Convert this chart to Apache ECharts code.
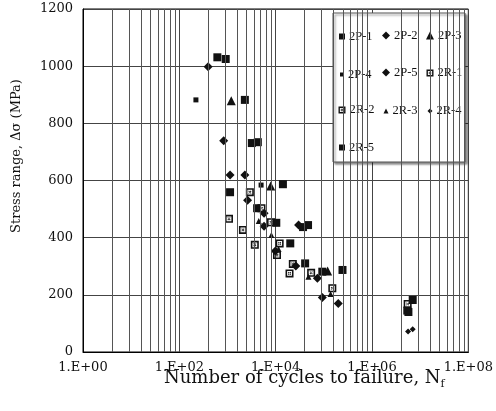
<!DOCTYPE html>
<html>
<head>
<meta charset="utf-8">
<script src="https://cdn.jsdelivr.net/npm/echarts@6/dist/echarts.min.js"></script>
<style>
  html, body { margin: 0; padding: 0; background: #fff; }
  #chart { width: 496px; height: 411px; }
</style>
</head>
<body>
<div id="chart"></div>
<script>
  // [cycles, stress range MPa]
  var s2P1 = [[616, 1031], [918, 1025], [1130, 559], [2293, 882], [4120, 503], [10300, 452], [37000, 437]]
  var s2P2 = [[396, 998], [834, 739], [1130, 619], [2610, 531], [5750, 485], [29900, 444]]
  var s2P3 = [[1197, 879], [7890, 581], [120000, 283]]
  var s2P4 = [[221, 882], [4980, 584]]
  var s2P5 = [[2293, 619], [5750, 440], [9850, 353], [26200, 301], [73500, 258], [93000, 191], [199000, 170]]
  var s2R1 = [[1074, 466], [2090, 427], [3690, 375], [2910, 559], [5070, 503], [5500000, 168]]
  var s2R2 = [[8000, 454], [12100, 380], [10650, 339], [22700, 308], [19400, 275], [54500, 277], [150000, 223]]
  var s2R3 = [[4460, 458], [8150, 409], [11500, 360], [47900, 263], [138000, 203]]
  var s2R4 = [[5600000, 72], [7000000, 80]]
  var s2R5 = [[3200, 731], [4260, 734], [14140, 587], [20100, 380], [40900, 310], [47000, 444], [93000, 281], [244000, 287], [7000000, 182], [5400000, 145], [5700000, 140]]

  var names = ['2P-1', '2P-2', '2P-3', '2P-4', '2P-5', '2R-1', '2R-2', '2R-3', '2R-4', '2R-5']
  var values = [s2P1, s2P2, s2P3, s2P4, s2P5, s2R1, s2R2, s2R3, s2R4, s2R5]
  var xTicks = [1, 1e2, 1e4, 1e6, 1e8]

  var framed = 'path://M0,0H10V10H0Z M2,2V8H8V2Z M3,3.8L3.8,3L7,6.2L6.2,7Z M7,3.8L6.2,3L3,6.2L3.8,7Z'
  // marker shape / plot size / legend icon size
  var marks = {
    '2P-1': ['rect', 8, 6], '2P-2': ['diamond', 9, 8], '2P-3': ['triangle', 9, 8],
    '2P-4': ['rect', 5, 4], '2P-5': ['diamond', 9, 8], '2R-1': [framed, 8, 7],
    '2R-2': [framed, 8, 7], '2R-3': ['triangle', 6, 5], '2R-4': ['diamond', 6, 5],
    '2R-5': ['rect', 8, 6]
  }

  // minor vertical grid lines (k^2 inside each 1..100 span)
  var minor = []
  for (var n = 0; n < 4; n++) {
    for (var k = 2; k <= 9; k++) {
      minor.push({ xAxis: k * k * Math.pow(100, n) })
    }
  }

  var series = names.map(function (nm, i) {
    return {
      name: nm,
      type: 'scatter',
      data: values[i],
      symbol: marks[nm][0],
      symbolSize: marks[nm][1],
      itemStyle: { color: '#111', opacity: 1 },
      z: 3
    }
  })
  series.push({
    type: 'scatter',
    data: [],
    silent: true,
    z: 0,
    markLine: {
      silent: true,
      symbol: 'none',
      animation: false,
      label: { show: false },
      lineStyle: { color: '#555', width: 1, type: 'solid' },
      data: minor
    }
  })

  var legends = names.map(function (nm, i) {
    var col = i < 9 ? i % 3 : 0
    var row = Math.floor(i / 3)
    var sz = marks[nm][2]
    return {
      data: [nm],
      left: [342, 386, 430][col] - sz / 2,
      top: [33, 70, 107, 144][row] - sz / 2,
      padding: 0,
      itemWidth: sz,
      itemHeight: sz,
      selectedMode: false,
      z: 4,
      textStyle: { fontFamily: 'Liberation Serif', fontSize: 12.5, color: '#111', padding: [0, 0, 0, -1] }
    }
  })

  var option = {
    animation: false,
    backgroundColor: '#fff',
    grid: { left: 83, top: 9, right: 25, bottom: 59, show: true, borderColor: '#000', borderWidth: 1 },
    legend: legends,
    xAxis: {
      type: 'log',
      logBase: 100,
      min: xTicks[0],
      max: xTicks[xTicks.length - 1],
      axisLine: { lineStyle: { color: '#000' } },
      axisTick: { show: false },
      axisLabel: {
        margin: 9,
        fontFamily: 'DejaVu Serif',
        fontSize: 13,
        color: '#111',
        formatter: function (v) {
          var e = Math.round(Math.log10(v))
          return '1.E+' + (e < 10 ? '0' : '') + e
        }
      },
      splitLine: { show: true, lineStyle: { color: '#444', width: 1 } }
    },
    yAxis: {
      type: 'value',
      min: 0,
      max: 1200,
      interval: 200,
      axisLine: { show: true, lineStyle: { color: '#000' } },
      axisTick: { show: false },
      axisLabel: {
        margin: 10,
        fontFamily: 'DejaVu Serif',
        fontSize: 13,
        color: '#111',
        formatter: function (v) { return String(v) }
      },
      splitLine: { show: true, lineStyle: { color: '#444', width: 1 } }
    },
    graphic: [
      {
        type: 'rect',
        z: 2,
        shape: { x: 333, y: 13, width: 132, height: 149 },
        style: { fill: '#fff', stroke: '#555', lineWidth: 1, shadowBlur: 2, shadowOffsetX: 2, shadowOffsetY: 2, shadowColor: 'rgba(0,0,0,0.45)' }
      },
      {
        type: 'text',
        x: 17,
        y: 156,
        rotation: Math.PI / 2,
        style: {
          text: 'Stress range, Δσ (MPa)',
          fontFamily: 'DejaVu Serif',
          fontSize: 13,
          fill: '#111',
          align: 'center',
          verticalAlign: 'middle'
        }
      },
      {
        type: 'text',
        left: 164,
        top: 369,
        style: {
          text: '{m|Number of cycles to failure, N}{s|f}',
          fill: '#111',
          rich: {
            m: { fontFamily: 'DejaVu Serif', fontSize: 18, lineHeight: 23 },
            s: { fontFamily: 'DejaVu Serif', fontSize: 11, lineHeight: 11, verticalAlign: 'bottom' }
          }
        }
      }
    ],
    series: series
  }

  var chart = echarts.init(document.getElementById('chart'))
  chart.setOption(option)
  window.addEventListener('resize', function () {
    chart.resize()
  })
</script>
</body>
</html>
